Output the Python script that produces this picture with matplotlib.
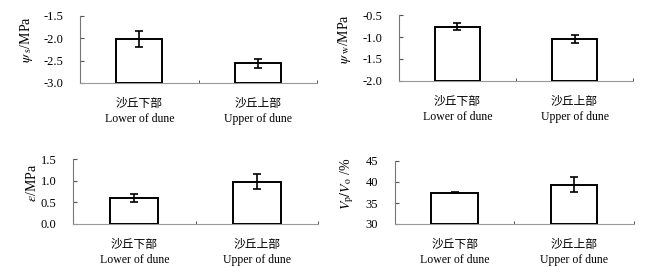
import matplotlib.pyplot as plt

plt.rcParams['mathtext.fontset'] = 'stix'
plt.rcParams['font.family'] = ['Liberation Serif', 'Noto Sans CJK SC']

# 数据
categories = ['沙丘下部\nLower of dune', '沙丘上部\nUpper of dune']

psi_s = [-2.02, -2.56]
psi_s_err = [0.18, 0.10]

psi_w = [-0.77, -1.05]
psi_w_err = [0.08, 0.09]

eps = [0.60, 0.98]
eps_err = [0.09, 0.165]

vp_vo = [37.5, 39.4]
vp_vo_err = [0.15, 1.9]

# 子图设置: (数据, 误差, y范围, y刻度, y标签, 坐标轴位置, y标签位置)
panels = [
    (psi_s, psi_s_err, (-3.0, -1.5), [-3.0, -2.5, -2.0, -1.5],
     r'$\psi_{\rm\ s}$/MPa', [0.1223, 0.704, 0.363, 0.239], (-0.19, 0.64)),
    (psi_w, psi_w_err, (-2.0, -0.5), [-2.0, -1.5, -1.0, -0.5],
     r'$\psi_{\rm\ w}$/MPa', [0.610, 0.711, 0.358, 0.235], (-0.195, 0.63)),
    (eps, eps_err, (0.0, 1.5), [0.0, 0.5, 1.0, 1.5],
     r'$\varepsilon$/MPa', [0.1116, 0.200, 0.375, 0.232], (-0.14, 0.63)),
    (vp_vo, vp_vo_err, (30, 45), [30, 35, 40, 45],
     r'$V_{\rm p}/V_{\rm o}$ /%', [0.604, 0.200, 0.365, 0.225], (-0.163, 0.64)),
]

fig = plt.figure(figsize=(6.54, 2.8), dpi=100)

for vals, errs, ylim, yticks, ylabel, pos, lab_xy in panels:
    ax = fig.add_axes(pos)
    base = ylim[0]
    heights = [v - base for v in vals]
    ax.bar([0, 1], heights, bottom=base, width=0.39, color='white',
           edgecolor='black', linewidth=1.4, zorder=3)
    ax.errorbar([0, 1], vals, yerr=errs, fmt='none', ecolor='black',
                elinewidth=1.2, capsize=3, capthick=1.2, zorder=4)
    ax.set_xlim(-0.5, 1.5)
    ax.set_ylim(*ylim)
    ax.set_yticks(yticks)
    if isinstance(yticks[0], float):
        ax.set_yticklabels([f'{t:.1f}' for t in yticks])
    ax.set_xticks([0, 1])
    ax.set_xticklabels(categories, fontsize=8.5, linespacing=1.35)
    ax.set_xticks([-0.5, 0.5, 1.5], minor=True)
    ax.tick_params(axis='x', which='major', length=0, pad=11)
    ax.tick_params(axis='x', which='minor', length=2.5, direction='in',
                   color='#333333')
    ax.tick_params(axis='y', length=3, direction='in', labelsize=9, pad=12,
                   color='#555555')
    for s in ['top', 'right']:
        ax.spines[s].set_visible(False)
    ax.spines['left'].set_color('#777777')
    ax.spines['bottom'].set_color('#999999')
    ax.set_ylabel(ylabel, fontsize=10)
    ax.yaxis.set_label_coords(*lab_xy)

fig.savefig('out.png', dpi=100)
